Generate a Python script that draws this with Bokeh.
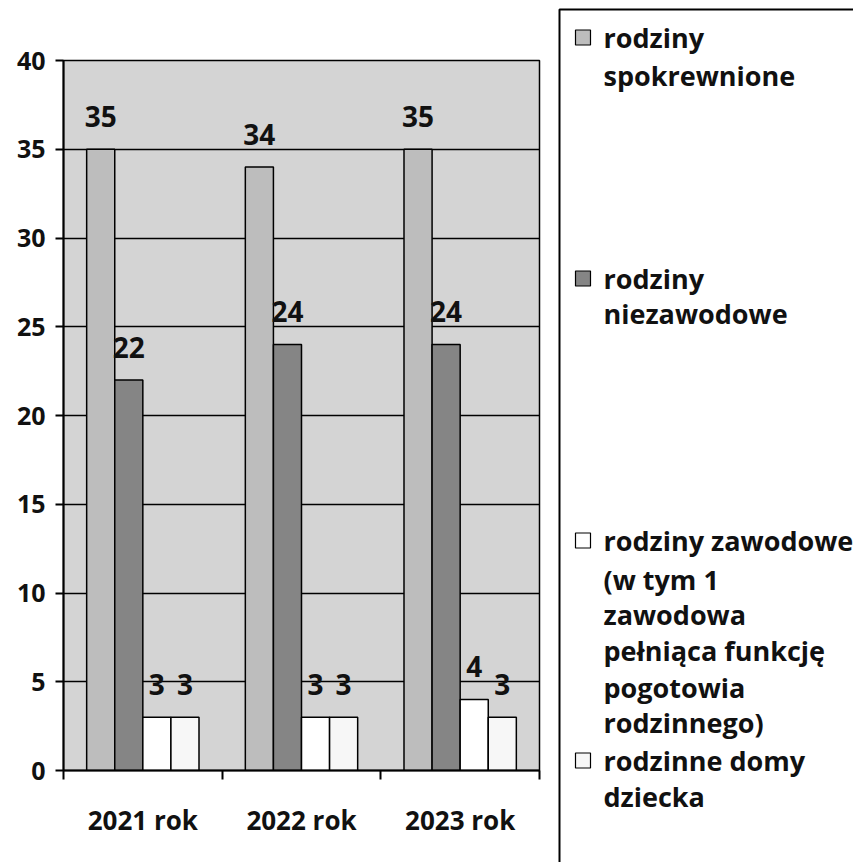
from bokeh.plotting import figure
from bokeh.models import Range1d, FixedTicker
from bokeh.layouts import row, column
from bokeh.core.properties import value
from bokeh.embed import file_html
from bokeh.resources import INLINE

# ---- data ----
categories = ["2021 rok", "2022 rok", "2023 rok"]
spokrewnione = [35, 34, 35]
niezawodowe = [22, 24, 24]
zawodowe = [3, 3, 4]
domy = [3, 3, 3]
y_ticks = [0, 5, 10, 15, 20, 25, 30, 35, 40]

legend_labels = [
    ["rodziny", "spokrewnione"],
    ["rodziny", "niezawodowe"],
    ["rodziny zawodowe", "(w tym 1", "zawodowa", "pełniąca funkcję", "pogotowia", "rodzinnego)"],
    ["rodzinne domy", "dziecka"],
]

# ---- styles / layout ----
FONT = value("Open Sans")
colors = ["#bdbdbd", "#858585", "#ffffff", "#f7f7f7"]
series = [spokrewnione, niezawodowe, zawodowe, domy]
bar_w = 0.177
offsets = [-1.5 * bar_w, -0.5 * bar_w, 0.5 * bar_w, 1.5 * bar_w]

W, H = 853, 862
W1 = 542                               # width of the chart part
FL, FR, FT, FB = 63, 539, 60, 770      # frame edges in page pixels
YMAX = 40

p = figure(width=W1, height=H, x_range=Range1d(0, len(categories)), y_range=Range1d(0, YMAX),
           output_backend="svg", toolbar_location=None,
           min_border_left=FL, min_border_right=W1 - FR, min_border_top=FT, min_border_bottom=H - FB)
p.background_fill_color = "#d4d4d4"
p.border_fill_color = "white"
p.outline_line_color = "black"
p.outline_line_width = 1.5

for vals, col, off in zip(series, colors, offsets):
    xs = [i + 0.5 + off for i in range(len(categories))]
    p.vbar(x=xs, top=vals, bottom=0, width=bar_w, fill_color=col,
           line_color="black", line_width=1.5)
    p.text(x=xs, y=vals, text=[str(v) for v in vals], text_align="center",
           text_baseline="alphabetic", y_offset=-33, text_font=FONT,
           text_font_style="bold", text_font_size="28px", text_color="#111111")

# y axis
yt = FixedTicker(ticks=y_ticks)
p.yaxis.ticker = yt
p.ygrid.ticker = yt
p.ygrid.grid_line_color = "black"
p.ygrid.grid_line_width = 1.5
p.xgrid.visible = False
p.yaxis.axis_line_color = "black"
p.yaxis.axis_line_width = 2
p.yaxis.major_tick_out = 8
p.yaxis.major_tick_in = 0
p.yaxis.major_tick_line_width = 2
p.yaxis.minor_tick_line_color = None
p.yaxis.major_label_standoff = 10
p.yaxis.major_label_text_font = "Open Sans"
p.yaxis.major_label_text_font_style = "bold"
p.yaxis.major_label_text_font_size = "25px"
p.yaxis.major_label_text_color = "#111111"

# x axis
centers = [i + 0.5 for i in range(len(categories))]
bounds = [float(i) for i in range(len(categories) + 1)]
p.xaxis.ticker = FixedTicker(ticks=centers, minor_ticks=bounds)
p.xaxis.major_label_overrides = {c: lab for c, lab in zip(centers, categories)}
p.xaxis.major_tick_out = 0
p.xaxis.major_tick_in = 0
p.xaxis.minor_tick_out = 9
p.xaxis.minor_tick_in = 0
p.xaxis.minor_tick_line_color = "black"
p.xaxis.minor_tick_line_width = 2
p.xaxis.axis_line_color = "black"
p.xaxis.axis_line_width = 2
p.xaxis.major_label_standoff = 22
p.xaxis.major_label_text_font = "Open Sans"
p.xaxis.major_label_text_font_style = "bold"
p.xaxis.major_label_text_font_size = "26px"
p.xaxis.major_label_text_color = "#111111"

# ---- legend panel (its own figure, coordinates = page pixels) ----
LW = W - W1
lg = figure(width=LW, height=H, x_range=Range1d(W1, W), y_range=Range1d(H, 0),
            output_backend="svg", toolbar_location=None, x_axis_type=None, y_axis_type=None,
            min_border=0)
lg.grid.visible = False
lg.outline_line_color = None
lg.background_fill_color = "white"
lg.border_fill_color = "white"
lg.quad(left=[559], right=[W + 30], top=[9], bottom=[H + 30], fill_color=None,
        line_color="black", line_width=2)

item_line_y = [[37, 75], [278, 313], [540, 579, 614, 650, 687, 722], [760, 796]]
for labels, ys, col in zip(legend_labels, item_line_y, colors):
    lg.rect(x=[582.5], y=[ys[0]], width=15, height=15, fill_color=col,
            line_color="black", line_width=1.2)
    lg.text(x=[603] * len(labels), y=ys, text=labels, text_align="left",
            text_baseline="middle", text_font=FONT, text_font_style="bold",
            text_font_size="27px", text_color="#111111")

layout = row(p, column(lg), spacing=0)
open("out.html", "w").write(file_html(layout, INLINE))
